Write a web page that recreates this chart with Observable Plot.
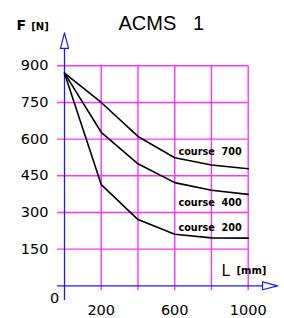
<!DOCTYPE html>
<html><head><meta charset="utf-8">
<script src="https://cdn.jsdelivr.net/npm/d3@7"></script>
<script src="https://cdn.jsdelivr.net/npm/@observablehq/plot@0.6"></script>
<style>body{margin:0;background:#fff}svg{display:block}</style>
</head><body><div id="chart"></div>
<script>
const lengths = [0, 200, 400, 600, 800, 1000];
const course700 = [870, 750, 611, 524, 494, 479];
const course400 = [870, 628, 499, 422, 391, 374];
const course200 = [870, 414, 271, 211, 196, 195];
const courseNames = ["course  700", "course  400", "course  200"];
const courseLabelY = [549, 340, 236];
const yTicks = [150, 300, 450, 600, 750, 900];
const xTicks = [200, 600, 1000];
const xGrid = [200, 400, 600, 800, 1000];
const title = "ACMS   1";

const series = [course700, course400, course200];
const rows = [];
series.forEach((vals, i) => vals.forEach((v, j) => rows.push({course: courseNames[i], L: lengths[j], F: v})));
const labels = courseNames.map((c, i) => ({name: c, y: courseLabelY[i]}));

// axis extents in data units
const xMin = -38, xEnd = 1078, xTip = 1160, xHalf = 16;
const yMin = -60, yEnd = 971, yTip = 1035, yHalf = 22;
const yArrow = [{x: -yHalf, y: yEnd}, {x: 0, y: yTip}, {x: yHalf, y: yEnd}, {x: -yHalf, y: yEnd}];
const xArrow = [{x: xEnd, y: -xHalf}, {x: xTip, y: 0}, {x: xEnd, y: xHalf}, {x: xEnd, y: -xHalf}];

const magenta = "#ff33ff", blue = "#1a1aff";
const font = "DejaVu Sans";

const plot = Plot.plot({
  width: 284, height: 318,
  marginLeft: 64, marginRight: 36.3, marginTop: 65.3, marginBottom: 32.7,
  x: {domain: [0, 1000], axis: null},
  y: {domain: [0, 900], axis: null},
  style: {fontFamily: font, background: "#fff"},
  marks: [
    Plot.ruleY(yTicks, {y: d => d, x1: xMin, x2: 1000, stroke: magenta, strokeWidth: 1.4}),
    Plot.ruleX(xGrid, {x: d => d, y1: -20, y2: 900, stroke: magenta, strokeWidth: 1.4}),
    Plot.ruleX([0], {x: d => d, y1: yMin, y2: yEnd, stroke: blue, strokeWidth: 1.3}),
    Plot.ruleY([0], {y: d => d, x1: xMin, x2: xEnd, stroke: blue, strokeWidth: 1.3}),
    Plot.line(yArrow, {x: "x", y: "y", stroke: blue, fill: "white", strokeWidth: 1.2}),
    Plot.line(xArrow, {x: "x", y: "y", stroke: blue, fill: "white", strokeWidth: 1.2}),
    Plot.line(rows, {x: "L", y: "F", z: "course", stroke: "black", strokeWidth: 1.6}),
    Plot.text(labels, {x: 620, y: "y", text: "name", textAnchor: "start", fontSize: 9.7, fontWeight: "bold", fill: "black"}),
    Plot.text(yTicks, {x: 0, y: d => d, text: d => String(d), dx: -16, textAnchor: "end", fontSize: 14.5, fill: "black"}),
    Plot.text(xTicks, {x: d => d, y: 0, text: d => String(d), dy: 25, fontSize: 14.5, fill: "black"}),
    Plot.text(["0"], {x: 0, y: 0, text: d => d, dx: -10, dy: 13, fontSize: 14.5, fill: "black"}),
    Plot.text([title], {x: 294, y: 1046, text: d => d, lineAnchor: "bottom", textAnchor: "start", fontSize: 20, fontFamily: "Liberation Sans", fill: "black"}),
    Plot.text(["F"], {x: -261, y: 1046, text: d => d, lineAnchor: "bottom", textAnchor: "start", fontSize: 14, fontWeight: "bold", fill: "black"}),
    Plot.text(["[N]"], {x: -181, y: 1046, text: d => d, lineAnchor: "bottom", textAnchor: "start", fontSize: 10, fontWeight: "bold", fill: "black"}),
    Plot.text(["L"], {x: 855, y: 42, text: d => d, lineAnchor: "bottom", textAnchor: "start", fontSize: 15, fill: "black"}),
    Plot.text(["[mm]"], {x: 936, y: 50, text: d => d, lineAnchor: "bottom", textAnchor: "start", fontSize: 10, fontWeight: "bold", fill: "black"})
  ]
});
document.getElementById("chart").append(plot);
</script>
</body></html>
